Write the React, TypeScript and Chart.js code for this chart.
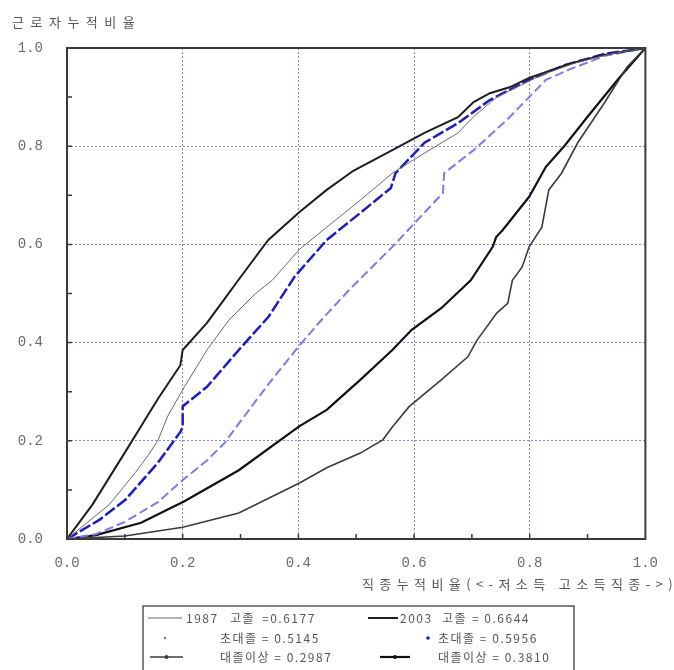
import { useEffect, useRef } from "react";
import { Chart, registerables } from "chart.js";

Chart.register(...registerables);

// 고졸 (high school)
const hs1987X = [0, 0.073, 0.118, 0.14, 0.157, 0.174, 0.203, 0.242, 0.28, 0.326, 0.355, 0.402, 0.449, 0.507, 0.5625, 0.618, 0.676, 0.703, 0.743, 0.777, 0.82, 0.88, 0.94, 1];
const hs1987Y = [0, 0.07, 0.135, 0.17, 0.2, 0.25, 0.31, 0.385, 0.446, 0.5, 0.527, 0.59, 0.635, 0.69, 0.745, 0.786, 0.827, 0.86, 0.9, 0.92, 0.945, 0.97, 0.988, 1];
const hs2003X = [0, 0.044, 0.073, 0.101, 0.123, 0.157, 0.196, 0.2, 0.242, 0.275, 0.296, 0.348, 0.402, 0.449, 0.495, 0.5625, 0.618, 0.676, 0.703, 0.731, 0.765, 0.799, 0.872, 0.929, 1];
const hs2003Y = [0, 0.07, 0.125, 0.178, 0.22, 0.285, 0.354, 0.385, 0.44, 0.493, 0.527, 0.609, 0.666, 0.711, 0.75, 0.792, 0.827, 0.859, 0.89, 0.908, 0.92, 0.939, 0.969, 0.986, 1];

// 초대졸 (junior college)
const jc1987X = [0, 0.05, 0.1, 0.157, 0.2, 0.242, 0.272, 0.297, 0.348, 0.399, 0.439, 0.49, 0.5625, 0.65, 0.652, 0.703, 0.76, 0.799, 0.828, 0.87, 0.93, 1];
const jc1987Y = [0, 0.01, 0.035, 0.075, 0.12, 0.16, 0.195, 0.235, 0.315, 0.39, 0.445, 0.51, 0.595, 0.705, 0.745, 0.792, 0.853, 0.9, 0.935, 0.957, 0.984, 1];
const jc2003X = [0, 0.056, 0.101, 0.157, 0.196, 0.2, 0.2, 0.242, 0.297, 0.348, 0.394, 0.449, 0.507, 0.56, 0.568, 0.618, 0.676, 0.731, 0.799, 0.86, 0.93, 1];
const jc2003Y = [0, 0.039, 0.08, 0.155, 0.218, 0.228, 0.27, 0.31, 0.385, 0.452, 0.535, 0.609, 0.664, 0.715, 0.745, 0.807, 0.847, 0.894, 0.935, 0.965, 0.988, 1];

// 대졸이상 (university and above)
const un1987X = [0, 0.1, 0.2, 0.297, 0.402, 0.449, 0.507, 0.546, 0.5625, 0.591, 0.647, 0.693, 0.709, 0.743, 0.762, 0.77, 0.787, 0.799, 0.821, 0.833, 0.855, 0.883, 0.929, 0.968, 1];
const un1987Y = [0, 0.006, 0.024, 0.053, 0.114, 0.145, 0.175, 0.202, 0.228, 0.269, 0.324, 0.371, 0.405, 0.46, 0.48, 0.527, 0.554, 0.595, 0.635, 0.711, 0.745, 0.807, 0.888, 0.961, 1];
const un2003X = [0, 0.05, 0.128, 0.203, 0.297, 0.402, 0.449, 0.507, 0.5625, 0.596, 0.647, 0.698, 0.736, 0.742, 0.753, 0.799, 0.828, 0.861, 0.9, 0.956, 1];
const un2003Y = [0, 0.008, 0.033, 0.077, 0.14, 0.23, 0.263, 0.324, 0.385, 0.426, 0.47, 0.527, 0.595, 0.615, 0.629, 0.697, 0.758, 0.802, 0.86, 0.941, 1];

// legend content
const legendYears = ["1987", "2003"];
const legendGroups = ["고졸", "초대졸", "대졸이상"];
const values1987 = [0.6177, 0.5145, 0.2987];
const values2003 = [0.6644, 0.5956, 0.381];

const axisTicks = [0, 0.2, 0.4, 0.6, 0.8, 1.0];
const minorTicks = [0.1, 0.2, 0.3, 0.4, 0.5, 0.6, 0.7, 0.8, 0.9];

const yTitle = "근로자누적비율";
const xTitle = "직종누적비율(<-저소득 고소득직종->)";

const KR = '"Noto Sans CJK KR", "Noto Sans", sans-serif';
const TEXT = "#555";

const pts = (xs: number[], ys: number[]) => xs.map((x, i) => ({ x, y: ys[i] }));

const decor = {
  id: "decor",
  afterDraw(chart: any) {
    const { ctx, chartArea: a, scales } = chart;
    const sx = scales.x;
    const sy = scales.y;
    ctx.save();

    // plot frame
    ctx.strokeStyle = "#3a3a3a";
    ctx.lineWidth = 2;
    ctx.strokeRect(a.left, a.top, a.right - a.left, a.bottom - a.top);

    // inward minor ticks on the left and bottom axes
    ctx.lineWidth = 1.5;
    ctx.beginPath();
    for (const t of minorTicks) {
      const px = sx.getPixelForValue(t);
      ctx.moveTo(px, a.bottom);
      ctx.lineTo(px, a.bottom - 5);
      const py = sy.getPixelForValue(t);
      ctx.moveTo(a.left, py);
      ctx.lineTo(a.left + 5, py);
    }
    ctx.stroke();

    // axis titles
    ctx.fillStyle = TEXT;
    ctx.textBaseline = "middle";
    ctx.textAlign = "left";
    ctx.font = `13px ${KR}`;
    ctx.letterSpacing = "6.5px";
    ctx.fillText(yTitle, 12, 22);
    ctx.letterSpacing = "5.4px";
    ctx.fillText(xTitle, 362, 584);

    // legend box
    const box = { left: 143, top: 606, right: 574, bottom: 700 };
    ctx.strokeStyle = "#555";
    ctx.lineWidth = 1.5;
    ctx.strokeRect(box.left, box.top, box.right - box.left, box.bottom - box.top);

    const rows = [618, 638, 657];
    const ds = chart.data.datasets;
    ctx.font = `12px ${KR}`;
    ctx.letterSpacing = "1.5px";

    const sampleLine = (x0: number, x1: number, y: number, d: any, marker: boolean) => {
      ctx.save();
      ctx.strokeStyle = d.borderColor;
      ctx.lineWidth = d.borderWidth;
      ctx.beginPath();
      ctx.moveTo(x0, y);
      ctx.lineTo(x1, y);
      ctx.stroke();
      if (marker) {
        ctx.fillStyle = d.borderColor;
        ctx.beginPath();
        ctx.arc((x0 + x1) / 2, y, 2, 0, Math.PI * 2);
        ctx.fill();
      }
      ctx.restore();
    };
    const dot = (x: number, y: number, color: string, r: number) => {
      ctx.save();
      ctx.fillStyle = color;
      ctx.beginPath();
      ctx.arc(x, y, r, 0, Math.PI * 2);
      ctx.fill();
      ctx.restore();
    };

    // row 1: 고졸
    sampleLine(148, 182, rows[0], ds[0], false);
    ctx.fillText(legendYears[0], 186, rows[0]);
    ctx.fillText(legendGroups[0], 230, rows[0]);
    ctx.fillText("=" + values1987[0].toFixed(4), 262, rows[0]);
    sampleLine(368, 398, rows[0], ds[1], false);
    ctx.fillText(legendYears[1], 400, rows[0]);
    ctx.fillText(legendGroups[0], 442, rows[0]);
    ctx.fillText("= " + values2003[0].toFixed(4), 472, rows[0]);

    // row 2: 초대졸
    dot(165, rows[1], "#777", 1.2);
    ctx.fillText(`${legendGroups[1]} = ${values1987[1].toFixed(4)}`, 220, rows[1]);
    dot(428, rows[1], ds[3].borderColor, 1.8);
    ctx.fillText(`${legendGroups[1]} = ${values2003[1].toFixed(4)}`, 438, rows[1]);

    // row 3: 대졸이상
    sampleLine(150, 183, rows[2], ds[4], true);
    ctx.fillText(`${legendGroups[2]} = ${values1987[2].toFixed(4)}`, 220, rows[2]);
    sampleLine(380, 410, rows[2], ds[5], true);
    ctx.fillText(`${legendGroups[2]} = ${values2003[2].toFixed(4)}`, 438, rows[2]);

    ctx.restore();
  },
};

export default function App() {
  const ref = useRef<HTMLCanvasElement>(null);

  useEffect(() => {
    if (!ref.current) return;
    const gridColor = (c: any) =>
      c.tick && (c.tick.value === 0 || c.tick.value === 1) ? "rgba(0,0,0,0)" : "#8585ee";

    const chart = new Chart(ref.current, {
      type: "line",
      data: {
        datasets: [
          { label: "1987 고졸", data: pts(hs1987X, hs1987Y), borderColor: "#6a6a6a", borderWidth: 1 },
          { label: "2003 고졸", data: pts(hs2003X, hs2003Y), borderColor: "#1e1e1e", borderWidth: 2 },
          { label: "1987 초대졸", data: pts(jc1987X, jc1987Y), borderColor: "#7b7bf0", borderWidth: 2, borderDash: [9, 4] },
          { label: "2003 초대졸", data: pts(jc2003X, jc2003Y), borderColor: "#1c1cc8", borderWidth: 2.5, borderDash: [12, 3] },
          { label: "1987 대졸이상", data: pts(un1987X, un1987Y), borderColor: "#3c3c3c", borderWidth: 1.6 },
          { label: "2003 대졸이상", data: pts(un2003X, un2003Y), borderColor: "#111", borderWidth: 2.2 },
        ].map((d) => ({ ...d, pointRadius: 0, fill: false, tension: 0 })),
      },
      options: {
        animation: false,
        responsive: false,
        maintainAspectRatio: false,
        layout: { padding: { top: 48, right: 15, left: 0, bottom: 0 } },
        plugins: { legend: { display: false }, tooltip: { enabled: false }, title: { display: false } },
        scales: {
          x: {
            type: "linear",
            min: 0,
            max: 1,
            afterBuildTicks: (s: any) => {
              s.ticks = axisTicks.map((v) => ({ value: v }));
            },
            afterFit: (s: any) => {
              s.height = 131;
            },
            grid: { color: gridColor, lineWidth: 1, drawTicks: false },
            border: { display: false, dash: [2, 2] },
            ticks: {
              padding: 16,
              maxRotation: 0,
              color: "#6a6a6a",
              font: { family: '"Liberation Mono", monospace', size: 14 },
              callback: (v: any) => Number(v).toFixed(1),
            },
          },
          y: {
            type: "linear",
            min: 0,
            max: 1,
            afterBuildTicks: (s: any) => {
              s.ticks = axisTicks.map((v) => ({ value: v }));
            },
            afterFit: (s: any) => {
              s.width = 67;
            },
            grid: { color: gridColor, lineWidth: 1, drawTicks: false },
            border: { display: false, dash: [2, 2] },
            ticks: {
              padding: 24,
              color: "#6a6a6a",
              font: { family: '"Liberation Mono", monospace', size: 14 },
              callback: (v: any) => Number(v).toFixed(1),
            },
          },
        },
      },
      plugins: [decor],
    } as any);

    return () => chart.destroy();
  }, []);

  return (
    <div style={{ position: "fixed", left: 0, top: 0, width: 674, height: 670, background: "#fff" }}>
      <canvas ref={ref} width={674} height={670} style={{ width: 674, height: 670, display: "block" }} />
    </div>
  );
}
